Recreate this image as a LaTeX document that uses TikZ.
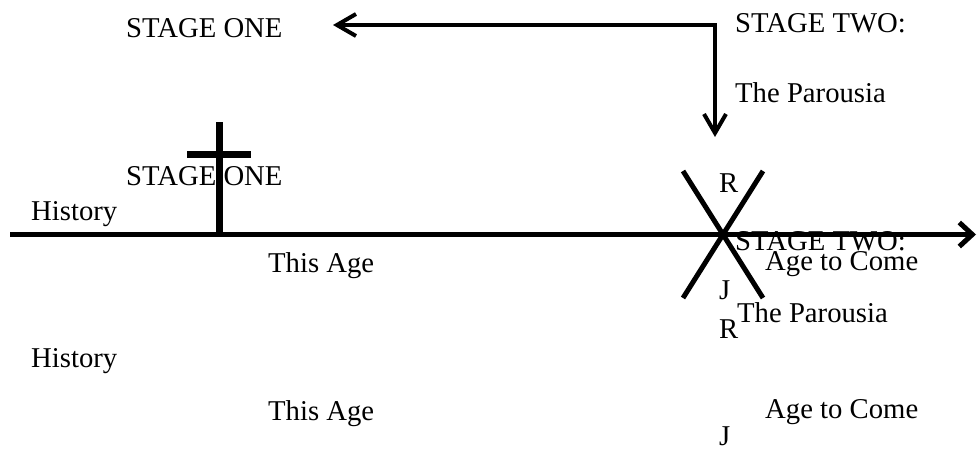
\documentclass[tikz,border=0pt]{standalone}
\usepackage{fontspec}
\setmainfont{Liberation Serif}
\usetikzlibrary{arrows.meta}
\begin{document}
\begin{tikzpicture}[x=1pt,y=-1pt,
  lbl/.style={anchor=base west,inner sep=0pt,font=\fontsize{28.7}{34}\selectfont},
  thickline/.style={line width=5.5pt},
  crossline/.style={line width=7pt},
  xline/.style={line width=5pt},
  thinarrow/.style={line width=4pt,-{Straight Barb[length=19pt,width=22pt,line width=4pt]}}]
\useasboundingbox (0,0) rectangle (978,451);
% coordinates
\coordinate (lstart) at (10,234.5);
\coordinate (lend) at (976,234.5);
\coordinate (ctop) at (219,122);
\coordinate (cbot) at (219,234.5);
\coordinate (cl) at (187,154);
\coordinate (cr) at (251,154);
\coordinate (x1a) at (683,171);
\coordinate (x1b) at (763,298);
\coordinate (x2a) at (763,171);
\coordinate (x2b) at (683,298);
\coordinate (corner) at (715,25);
\coordinate (ltip) at (333,25);
\coordinate (dtip) at (715,137);
% lines
\draw[thickline,-{Straight Barb[length=13pt,width=24pt,line width=5pt]}] (lstart) -- (lend);
\draw[crossline] (ctop) -- (cbot);
\draw[crossline] (cl) -- (cr);
\draw[xline] (x1a) -- (x1b);
\draw[xline] (x2a) -- (x2b);
\draw[thinarrow] (corner) -- (ltip);
\draw[thinarrow,shorten <=-2pt] (corner) -- (dtip);
% texts
\node[lbl] (s1a) at (126,37) {STAGE ONE};
\node[lbl] (s2a) at (735,32) {STAGE TWO:};
\node[lbl] (pa) at (735,102) {The Parousia};
\node[lbl] (s1b) at (126,185) {STAGE ONE};
\node[lbl] (ha) at (31,220) {History};
\node[lbl] (ra) at (719,192) {R};
\node[lbl] (s2b) at (735,250.5) {STAGE TWO:};
\node[lbl] (aca) at (765,270) {Age to Come};
\node[lbl] (taa) at (268,272) {This Age};
\node[lbl] (ja) at (719,299) {J};
\node[lbl] (pb) at (737,322) {The Parousia};
\node[lbl] (rb) at (719,338) {R};
\node[lbl] (hb) at (31,367) {History};
\node[lbl] (tab) at (268,420) {This Age};
\node[lbl] (acb) at (765,418) {Age to Come};
\node[lbl] (jb) at (719,445) {J};
\end{tikzpicture}
\end{document}
